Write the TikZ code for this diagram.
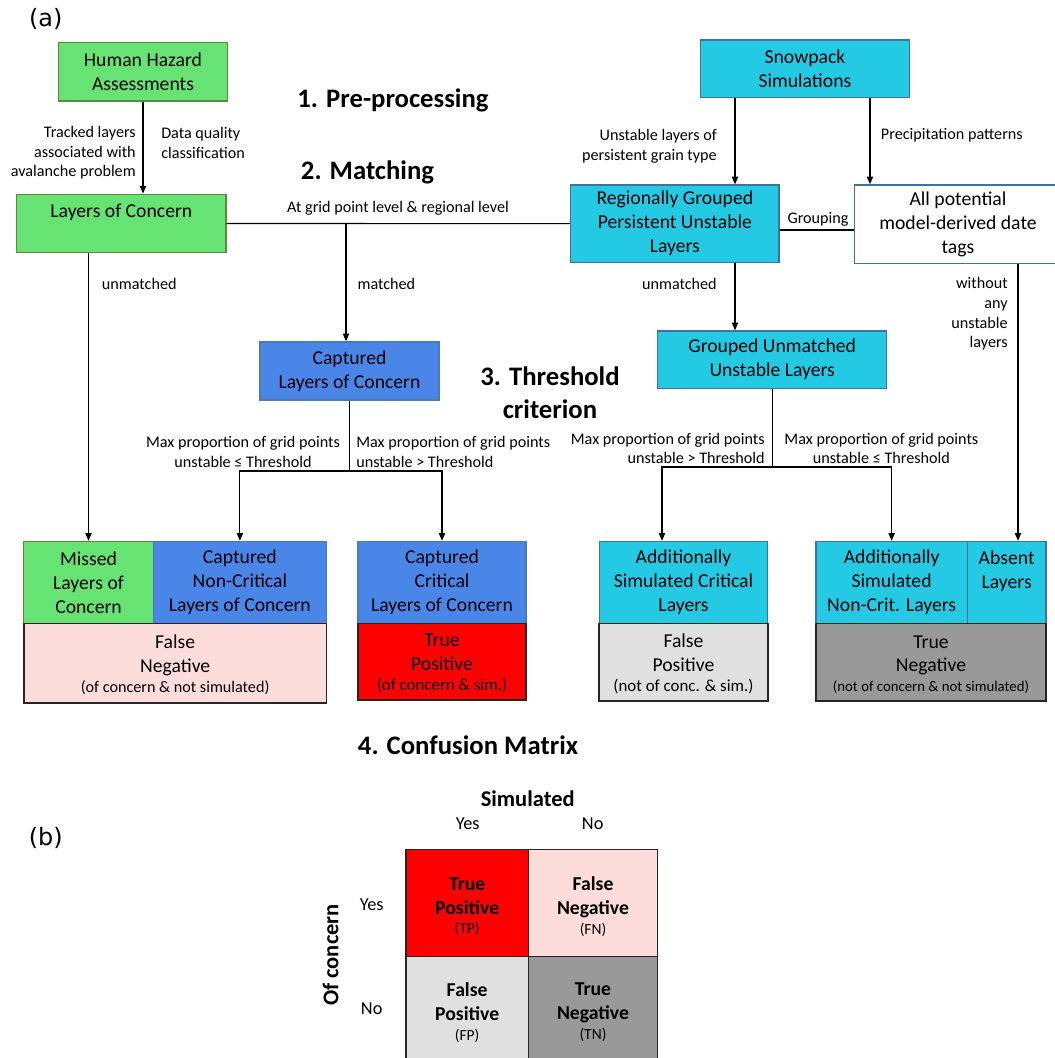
\documentclass[tikz,border=0pt]{standalone}
\usepackage{fontspec}
\setmainfont{Carlito}
\newfontfamily\tagfont{DejaVu Sans}
\usetikzlibrary{arrows.meta}
\definecolor{hhgreen}{HTML}{66E372}
\definecolor{hhgreenline}{HTML}{5A8A3E}
\definecolor{simcyan}{HTML}{24CAE3}
\definecolor{simline}{HTML}{41719C}
\definecolor{capblue}{HTML}{4A86E8}
\definecolor{capline}{HTML}{4F77B4}
\definecolor{fnpink}{HTML}{FDDCDC}
\definecolor{fplight}{HTML}{E0E0E0}
\definecolor{tngray}{HTML}{999999}
\definecolor{outline}{HTML}{262626}
\tikzset{
  box/.style={draw, line width=1pt, inner sep=0pt, align=center, font=\fontsize{14}{17}\selectfont},
  greenbox/.style={box, fill=hhgreen, draw=hhgreenline},
  simbox/.style={box, fill=simcyan, draw=simline},
  capbox/.style={box, fill=capblue, draw=capline},
  outbox/.style={box, draw=outline, line width=1.2pt},
  boxtext/.style={inner sep=0pt, align=center, font=\fontsize{14}{17}\selectfont},
  lbl/.style={inner sep=0pt, font=\fontsize{11.5}{14}\selectfont},
  heading/.style={inner sep=0pt, align=center, font=\bfseries\fontsize{19}{23.5}\selectfont},
  cell/.style={draw=outline, line width=1pt, inner sep=0pt},
  celltext/.style={inner sep=0pt, align=center, font=\bfseries\fontsize{14}{17}\selectfont},
  arr/.style={line width=0.8pt, -{Triangle[length=5.5pt,width=4.5pt]}},
  link/.style={line width=0.8pt},
}
\newcommand{\paren}[2]{{\mdseries\fontsize{#1}{#1}\selectfont #2}}
\begin{document}
\begin{tikzpicture}[x=0.025cm, y=-0.025cm]
\useasboundingbox (0,0) rectangle (1054,1058);
\fill[white] (0,0) rectangle (1054,1058);

\node[inner sep=0pt, font=\tagfont\fontsize{17}{20}\selectfont] (tag-a) at (45.8,19.3) {(a)};
\node[inner sep=0pt, font=\tagfont\fontsize{17}{20}\selectfont] (tag-b) at (45.8,838) {(b)};

\node[heading] (step-pre) at (393,100) {1. Pre-processing};
\node[heading] (step-match) at (367.5,172.3) {2. Matching};
\node[heading] (step-thr) at (550,393) {3. Threshold\\criterion};
\node[heading] (step-cm) at (468,745) {4. Confusion Matrix};

\node[greenbox, minimum width=4.215cm, minimum height=1.4575cm] (hha) at (143,71.85) {Human Hazard\\Assessments};
\node[simbox, minimum width=5.215cm, minimum height=1.44cm] (snow) at (805,68.85) {Snowpack\\Simulations};
\node[greenbox, minimum width=5.23cm, minimum height=1.46cm] (loc) at (121.35,223.5) {};
\node[boxtext] (loc-txt) at (121.35,212.3) {Layers of Concern};
\node[simbox, minimum width=5.21cm, minimum height=1.93cm] (rgp) at (674.85,223.65) {Regionally Grouped\\Persistent Unstable\\Layers};
\node[box, draw=simline, fill=white, minimum width=5.185cm, minimum height=1.96cm] (apt) at (958,224.15) {All potential\\model-derived date\\tags};
\node[capbox, minimum width=4.475cm, minimum height=1.45cm] (cap) at (349.5,371) {Captured\\Layers of Concern};
\node[simbox, minimum width=5.725cm, minimum height=1.4325cm] (gun) at (772.2,359.65) {Grouped Unmatched\\Unstable Layers};

\node[greenbox, minimum width=3.2375cm, minimum height=2.05cm] (missed) at (88.55,582.5) {Missed\\Layers of\\Concern};
\node[capbox, minimum width=4.33cm, minimum height=2.05cm] (capnc) at (239.9,582.5) {Captured\\Non-Critical\\Layers of Concern};
\node[capbox, minimum width=4.2cm, minimum height=2.05cm] (capc) at (442,582.5) {Captured\\Critical\\Layers of Concern};
\node[simbox, minimum width=4.21cm, minimum height=2.05cm] (ascl) at (683.5,582.5) {Additionally\\Simulated Critical\\Layers};
\node[simbox, minimum width=3.7825cm, minimum height=2.05cm] (asnc) at (891.65,582.5) {Additionally\\Simulated\\Non-Crit. Layers};
\node[simbox, minimum width=1.9675cm, minimum height=2.05cm] (absent) at (1006.65,582.5) {};
\node[boxtext] (absent-txt) at (1006.65,571) {Absent\\Layers};

\node[outbox, fill=fnpink, minimum width=7.5675cm, minimum height=1.98cm] (fn) at (175.15,663.1) {};
\node[boxtext] (fn-txt) at (175.15,665) {False\\Negative\\[-3pt]\paren{11.5}{(of concern \& not simulated)}};
\node[outbox, fill=red, minimum width=4.2cm, minimum height=1.9125cm] (tp) at (442,661.75) {};
\node[boxtext] (tp-txt) at (442,663.5) {True\\Positive\\[-3pt]\paren{12}{(of concern \& sim.)}};
\node[outbox, fill=fplight, minimum width=4.21cm, minimum height=1.9375cm] (fp) at (683.5,662.25) {};
\node[boxtext] (fp-txt) at (683.5,664) {False\\Positive\\[-3pt]\paren{12}{(not of conc. \& sim.)}};
\node[outbox, fill=tngray, minimum width=5.75cm, minimum height=1.9375cm] (tn) at (931,662.25) {};
\node[boxtext] (tn-txt) at (931,664.5) {True\\Negative\\[-3pt]\paren{10.5}{(not of concern \& not simulated)}};

\coordinate (mx) at (346,0);
\coordinate (sx) at (735,0);
\coordinate (px) at (870,0);
\coordinate (ax) at (1018,0);
\coordinate (cx) at (662,0);
\coordinate (gy) at (0,230);
\coordinate (cy) at (0,471);
\coordinate (uy) at (0,467);

\draw[arr] (hha.south) -- (hha.south |- loc.north);
\draw[link] (loc.east) -- (rgp.west);
\draw[link] (rgp.east |- gy) -- (apt.west |- gy);
\draw[arr] (loc.south -| missed.north) -- (missed.north);
\draw[arr] (mx |- loc.east) -- (mx |- cap.north);
\draw[arr] (sx |- snow.south) -- (sx |- rgp.north);
\draw[arr] (px |- snow.south) -- (px |- apt.north);
\draw[arr] (sx |- rgp.south) -- (sx |- gun.north);
\draw[arr] (ax |- apt.south) -- (ax |- absent.north);
\draw[link] (cap.south) -- (cap.south |- cy);
\draw[arr] (cap.south |- cy) -| (capnc.north);
\draw[arr] (cap.south |- cy) -| (capc.north);
\draw[link] (gun.south) -- (gun.south |- uy);
\draw[arr] (gun.south |- uy) -| (cx |- ascl.north);
\draw[arr] (gun.south |- uy) -| (asnc.north);

\node[lbl, anchor=east, align=right] (l-tracked) at (136,153) {Tracked layers\\associated with\\avalanche problem};
\node[lbl, anchor=west, align=left] (l-quality) at (161,143) {Data quality\\classification};
\node[lbl] (l-grid) at (398,208) {At grid point level \& regional level};
\node[lbl, anchor=west] (l-unm1) at (101.7,284) {unmatched};
\node[lbl, anchor=west] (l-match) at (357.3,284) {matched};
\node[lbl, anchor=east, align=right] (l-persist) at (717,146) {Unstable layers of\\persistent grain type};
\node[lbl, anchor=west] (l-precip) at (880.7,135) {Precipitation patterns};
\node[lbl] (l-group) at (818,219) {Grouping};
\node[lbl, anchor=east] (l-unm2) at (717,284) {unmatched};
\node[lbl, anchor=east, align=right] (l-without) at (1008,314) {without\\any\\unstable\\layers};
\node[lbl, align=center] (l-cap-le) at (243,452) {Max proportion of grid points\\unstable ≤ Threshold};
\node[lbl, anchor=west, align=left] (l-cap-gt) at (356,452) {Max proportion of grid points\\unstable > Threshold};
\node[lbl, anchor=east, align=right] (l-gun-gt) at (765,448.5) {Max proportion of grid points\\unstable > Threshold};
\node[lbl, align=center] (l-gun-le) at (881.4,448.5) {Max proportion of grid points\\unstable ≤ Threshold};

\node[inner sep=0pt, font=\bfseries\fontsize{16}{19}\selectfont] (sim) at (527.7,799) {Simulated};
\node[inner sep=0pt, font=\bfseries\fontsize{16}{19}\selectfont, rotate=90] (conc) at (330.7,955) {Of concern};
\node[inner sep=0pt, font=\fontsize{13}{15}\selectfont] (sim-yes) at (467.7,824) {Yes};
\node[inner sep=0pt, font=\fontsize{13}{15}\selectfont] (sim-no) at (592.7,824) {No};
\node[inner sep=0pt, font=\fontsize{13}{15}\selectfont] (conc-yes) at (371.7,905) {Yes};
\node[inner sep=0pt, font=\fontsize{13}{15}\selectfont] (conc-no) at (371.7,1009) {No};

\node[cell, fill=red, minimum width=3.0575cm, minimum height=2.685cm] (tp-cell) at (467.15,903) {};
\node[cell, fill=fnpink, minimum width=3.235cm, minimum height=2.685cm] (fn-cell) at (593,903) {};
\node[cell, fill=fplight, minimum width=3.0575cm, minimum height=2.685cm] (fp-cell) at (467.15,1010.4) {};
\node[cell, fill=tngray, minimum width=3.235cm, minimum height=2.685cm] (tn-cell) at (593,1010.4) {};
\node[celltext] (tp-cell-txt) at (467.15,906.7) {True\\Positive\\[-3pt]\paren{11}{(TP)}};
\node[celltext] (fn-cell-txt) at (593,906.7) {False\\Negative\\[-3pt]\paren{11}{(FN)}};
\node[celltext] (fp-cell-txt) at (467.15,1012.4) {False\\Positive\\[-3pt]\paren{11}{(FP)}};
\node[celltext] (tn-cell-txt) at (593,1012.4) {True\\Negative\\[-3pt]\paren{11}{(TN)}};
\end{tikzpicture}
\end{document}
